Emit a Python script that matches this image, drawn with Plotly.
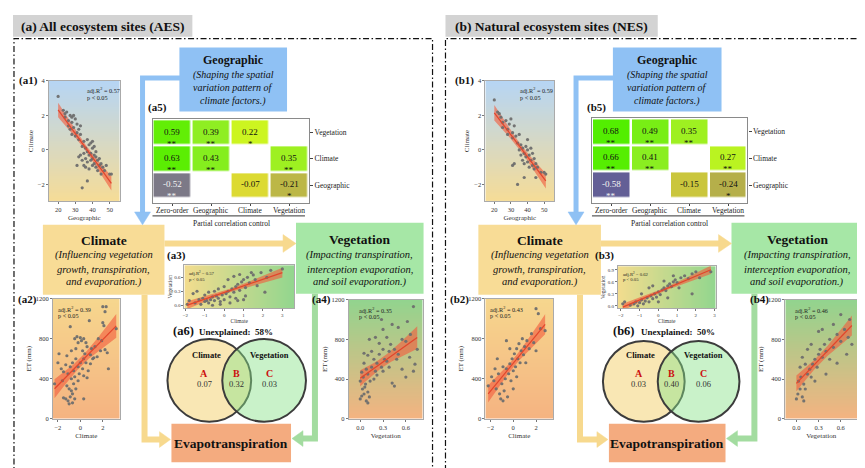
import numpy as np
import plotly.graph_objects as go

W, H = 865, 468
SERIF = "Liberation Serif"

# ---------------- data ----------------
a1_points = [(20, 3.1), (23, 2.3), (24, 2.1), (24, 1.9), (25, 2.2), (26, 1.7), (26, 1.4), (27, 2.0), (27, 1.2),
             (28, 1.9), (28, 1.6), (28, 0.9), (29, 2.0), (29, 1.3), (30, 1.8), (30, 0.8), (31, 1.0), (31, 1.5),
             (32, 0.6), (32, 1.2), (33, 0.9), (33, -0.3), (34, 0.2), (34, -0.6), (34, -2.2), (35, 0.5), (35, -0.2),
             (35, -0.9), (36, 0.1), (36, -0.5), (36, -1.0), (37, -0.1), (37, 0.6), (37, -0.7), (37, -1.8), (38, 0.3),
             (38, -0.3), (38, -1.1), (39, 0.4), (39, -0.2), (39, -0.6), (40, 0.1), (40, -0.5), (40, -0.9), (40, 0.5),
             (41, -0.3), (41, -0.8), (41, 0.2), (42, -0.4), (42, -1.0), (42, -0.1), (43, -0.6), (43, -1.2), (44, -0.5),
             (44, -0.9), (45, -0.8), (45, -1.4), (46, -1.0), (47, -1.2), (48, -0.9), (50, -1.4), (51, -1.4), (33, 1.4),
             (32, -0.4), (31, -0.9)]
a2_points = [(2.0, 1120), (2.3, 1120), (2.2, 1070), (0.8, 980), (-0.9, 920), (3.2, 900), (2.0, 960), (2.1, 930),
             (-0.5, 800), (-0.3, 820), (0.0, 810), (0.3, 800), (0.5, 760), (0.1, 780), (-0.2, 760), (0.6, 720),
             (1.0, 700), (1.3, 720), (1.6, 800), (1.9, 780), (2.2, 690), (2.4, 660), (1.8, 680), (-1.9, 650),
             (-1.2, 630), (-0.8, 680), (-0.4, 700), (0.2, 680), (0.4, 650), (0.9, 640), (1.2, 610), (1.5, 620),
             (2.5, 500), (-2.0, 560), (-1.7, 500), (-1.5, 470), (-1.3, 540), (-1.1, 450), (-0.9, 520), (-0.7, 560),
             (-0.6, 480), (-0.4, 600), (-0.2, 520), (0.0, 560), (0.2, 500), (0.3, 600), (0.5, 560), (0.7, 480),
             (0.9, 550), (1.1, 600), (-0.5, 420), (-0.1, 450), (0.3, 430), (0.6, 410), (-0.8, 400), (-2.3, 350),
             (-1.6, 380), (-1.2, 330), (-1.0, 300), (-0.8, 280), (-0.7, 250), (-0.6, 350), (-0.9, 220), (-1.3, 200),
             (-1.1, 180), (-0.7, 160), (-1.0, 150), (-0.4, 300), (-0.2, 380), (0.3, 200), (-1.5, 210), (-0.5, 200)]
a3_points = [(-1.8, 0.10), (-1.5, 0.05), (-1.3, 0.12), (-1.2, 0.02), (-1.1, 0.15), (-1.0, 0.08), (-0.9, 0.10),
             (-0.8, 0.05), (-0.7, 0.12), (-0.6, 0.18), (-0.5, 0.10), (-0.4, 0.20), (-0.3, 0.15), (-0.2, 0.08),
             (-0.1, 0.22), (0.0, 0.12), (0.1, 0.25), (0.2, 0.30), (0.3, 0.18), (0.4, 0.35), (0.5, 0.28), (0.6, 0.40),
             (0.7, 0.45), (0.8, 0.32), (0.9, 0.50), (1.0, 0.55), (1.1, 0.38), (1.2, 0.60), (1.3, 0.48), (1.5, 0.65),
             (1.7, 0.42), (1.9, 0.70), (2.1, 0.28), (2.2, 0.60), (2.4, 0.75), (3.0, 0.78), (-1.6, 0.25), (-1.4, 0.30),
             (-0.8, 0.28), (-0.3, 0.35), (0.2, 0.55), (0.5, 0.62), (-0.6, 0.00), (-0.2, 0.02), (0.3, 0.05),
             (0.7, 0.10), (1.0, 0.12), (-1.0, 0.22), (0.0, 0.40), (0.8, 0.66), (1.4, 0.70), (-0.5, 0.30), (1.1, 0.20),
             (1.6, 0.55), (-1.9, 0.02), (0.6, 0.15)]
a4_points = [(0.00, 200), (0.02, 230), (0.05, 250), (0.08, 180), (0.10, 160), (0.03, 300), (0.06, 320), (0.10, 270),
             (0.12, 220), (0.00, 380), (0.04, 420), (0.07, 350), (0.02, 470), (0.08, 500), (0.10, 450), (0.13, 380),
             (0.15, 520), (0.18, 600), (0.20, 480), (0.22, 560), (0.25, 650), (0.28, 520), (0.30, 700), (0.32, 600),
             (0.35, 580), (0.38, 680), (0.40, 750), (0.15, 680), (0.10, 640), (0.05, 660), (0.12, 800), (0.20, 820),
             (0.25, 760), (0.30, 900), (0.35, 820), (0.45, 700), (0.50, 650), (0.55, 800), (0.60, 780), (0.65, 620),
             (0.70, 480), (0.72, 550), (0.75, 700), (0.70, 1130), (0.62, 980), (0.42, 950), (0.28, 1000), (0.50, 920),
             (0.45, 330), (0.42, 360), (0.55, 500), (0.60, 420), (0.18, 400), (0.22, 440), (0.05, 560), (0.30, 480),
             (0.38, 520), (0.48, 600), (0.66, 850)]

b1_points = [(20, 2.9), (22, 2.2), (23, 2.1), (24, 1.9), (25, 1.6), (25, 1.3), (27, 1.7), (28, 1.2), (28, 0.9),
             (29, 1.5), (30, 1.8), (31, 1.0), (31, 0.7), (32, 1.4), (33, 0.8), (34, 0.4), (35, 0.0), (35, 0.9),
             (36, -0.3), (36, 0.3), (37, -0.6), (37, 0.1), (38, -0.2), (38, -0.8), (38, -1.6), (39, 0.2), (39, -0.4),
             (40, -0.7), (40, 0.0), (40, 0.6), (41, -0.3), (41, -1.0), (42, 0.1), (42, -0.6), (43, -0.9), (43, -0.2),
             (44, -0.5), (44, -1.1), (45, -0.8), (46, -1.0), (48, -1.3), (50, -1.3), (51, -1.4), (34, -2.0),
             (31, -0.9), (32, -0.8), (45, -1.6)]
b2_points = [(-2.2, 330), (-1.9, 420), (-1.7, 380), (-1.5, 300), (-1.3, 450), (-1.2, 250), (-1.1, 200), (-1.0, 350),
             (-0.9, 180), (-0.8, 280), (-0.7, 400), (-0.6, 500), (-0.5, 220), (-0.4, 450), (-0.3, 550), (-0.2, 380),
             (-0.1, 600), (0.0, 480), (0.1, 650), (0.2, 520), (0.3, 700), (0.4, 600), (0.5, 750), (0.6, 560),
             (0.7, 680), (0.8, 800), (0.9, 640), (1.0, 720), (1.2, 780), (1.4, 700), (1.6, 850), (1.8, 760),
             (2.0, 1100), (2.2, 1050), (2.4, 900), (2.0, 680), (-0.6, 780), (-1.4, 600), (-0.9, 520), (0.0, 300),
             (0.3, 420), (-1.6, 500), (2.8, 880), (1.1, 560), (-0.3, 700)]
b3_points = [(-1.8, 0.10), (-1.5, 0.02), (-1.3, 0.05), (-1.2, 0.10), (-1.1, 0.00), (-1.0, 0.08), (-0.9, 0.15),
             (-0.8, 0.05), (-0.7, 0.12), (-0.6, 0.20), (-0.5, 0.10), (-0.4, 0.25), (-0.3, 0.18), (-0.2, 0.30),
             (-0.1, 0.22), (0.0, 0.35), (0.1, 0.28), (0.2, 0.40), (0.3, 0.45), (0.4, 0.38), (0.5, 0.50), (0.6, 0.55),
             (0.7, 0.48), (0.8, 0.60), (0.9, 0.65), (1.0, 0.58), (1.2, 0.70), (1.4, 0.75), (1.6, 0.68), (1.8, 0.80),
             (2.0, 0.85), (2.2, 0.70), (2.8, 0.85), (1.8, 0.30), (-0.5, 0.45), (0.3, 0.62), (-0.9, 0.30), (0.8, 0.75),
             (-1.9, 0.05), (0.0, 0.10), (0.5, 0.20), (1.1, 0.45), (-0.3, 0.50)]
b4_points = [(0.00, 200), (0.02, 250), (0.05, 300), (0.08, 220), (0.10, 180), (0.03, 380), (0.06, 420), (0.10, 350),
             (0.12, 300), (0.15, 450), (0.18, 500), (0.20, 420), (0.22, 550), (0.25, 600), (0.28, 520), (0.30, 650),
             (0.32, 700), (0.35, 620), (0.38, 750), (0.40, 680), (0.45, 800), (0.50, 720), (0.55, 850), (0.60, 780),
             (0.65, 900), (0.70, 820), (0.72, 1000), (0.60, 1050), (0.50, 950), (0.30, 880), (0.15, 700), (0.08, 620),
             (0.40, 450), (0.55, 560), (0.20, 750), (0.05, 520), (0.25, 380), (0.45, 600), (0.35, 900), (0.12, 550),
             (0.68, 650), (0.75, 750)]

adj_r2 = {"a1": "0.57", "a2": "0.39", "a3": "0.57", "a4": "0.35",
          "b1": "0.59", "b2": "0.43", "b3": "0.62", "b4": "0.46"}

matrix_cols = ["Zero-order", "Geographic", "Climate", "Vegetation"]
matrix_rows = ["Geographic", "Climate", "Vegetation"]          # bottom -> top
a5_values = [[-0.52, None, -0.07, -0.21], [0.63, 0.43, None, 0.35], [0.59, 0.39, 0.22, None]]
a5_stars = [["**", "", "", "*"], ["**", "**", "", "**"], ["**", "**", "*", ""]]
b5_values = [[-0.58, None, -0.15, -0.24], [0.66, 0.41, None, 0.27], [0.68, 0.49, 0.35, None]]
b5_stars = [["**", "", "", "*"], ["**", "**", "", "**"], ["**", "**", "**", ""]]

venn_a = {"A": "0.07", "B": "0.32", "C": "0.03", "unexplained": "58%"}
venn_b = {"A": "0.03", "B": "0.40", "C": "0.06", "unexplained": "50%"}

# ---------------- helpers ----------------
def X(p):
    return p / W


def Y(p):
    return 1 - p / H


fig = go.Figure()
axes = {}
shapes = []
annots = []


def axkeys(i):
    return ("x" if i == 1 else f"x{i}", "y" if i == 1 else f"y{i}",
            "xaxis" if i == 1 else f"xaxis{i}", "yaxis" if i == 1 else f"yaxis{i}")


def text(x, y, s, size, color="#111", bold=False, italic=False, xanchor="center", yanchor="middle"):
    if bold:
        s = f"<b>{s}</b>"
    if italic:
        s = f"<i>{s}</i>"
    annots.append(dict(xref="paper", yref="paper", x=X(x), y=Y(y), text=s, showarrow=False,
                       xanchor=xanchor, yanchor=yanchor,
                       font=dict(family=SERIF, size=size, color=color)))


def rect(x0, y0, x1, y1, fill, line=None, lw=0, dash=None):
    shapes.append(dict(type="rect", xref="paper", yref="paper", x0=X(x0), x1=X(x1), y0=Y(y1), y1=Y(y0),
                       fillcolor=fill, line=dict(color=line or fill, width=lw, dash=dash), layer="below"))


def poly(pts, color, width):
    d = "M " + " L ".join(f"{X(a):.5f},{Y(b):.5f}" for a, b in pts)
    shapes.append(dict(type="path", xref="paper", yref="paper", path=d,
                       line=dict(color=color, width=width), layer="above"))


def head(pts, color):
    d = "M " + " L ".join(f"{X(a):.5f},{Y(b):.5f}" for a, b in pts) + " Z"
    shapes.append(dict(type="path", xref="paper", yref="paper", path=d, fillcolor=color,
                       line=dict(color=color, width=0.5), layer="above"))


def circle(cx, cy, r, fill):
    shapes.append(dict(type="circle", xref="paper", yref="paper", x0=X(cx - r), x1=X(cx + r),
                       y0=Y(cy + r), y1=Y(cy - r), fillcolor=fill,
                       line=dict(color="#3c3c3c", width=2), layer="above"))


def scatter_panel(i, pts, dom, xr, yr, xt, yt, xtitle, ytitle, grad, r2, r2xy, fs=6.5, yfmt=None, xfmt=None,
                  standoff=3):
    xa, ya, xk, yk = axkeys(i)
    xs = np.array([p[0] for p in pts], float)
    ys = np.array([p[1] for p in pts], float)
    n = 30
    if grad[0] == "v":
        gx = [xr[0], xr[1]]
        gy = list(np.linspace(yr[0], yr[1], n))
        z = [[t, t] for t in np.linspace(0, 1, n)]
    else:
        gx = list(np.linspace(xr[0], xr[1], n))
        gy = [yr[0], yr[1]]
        z = [list(np.linspace(0, 1, n))] * 2
    fig.add_trace(go.Heatmap(x=gx, y=gy, z=z, colorscale=[[0, grad[1]], [1, grad[2]]], zsmooth="best",
                             showscale=False, hoverinfo="skip", xaxis=xa, yaxis=ya))
    k, b = np.polyfit(xs, ys, 1)
    m = len(xs)
    xl = np.linspace(xs.min(), xs.max(), 60)
    yl = k * xl + b
    s = np.sqrt(((ys - (k * xs + b)) ** 2).sum() / (m - 2))
    se = s * np.sqrt(1 / m + (xl - xs.mean()) ** 2 / ((xs - xs.mean()) ** 2).sum())
    band_x = list(xl) + list(xl[::-1])
    band_y = list(yl + 1.96 * se) + list((yl - 1.96 * se)[::-1])
    fig.add_trace(go.Scatter(x=band_x, y=band_y, fill="toself", fillcolor="rgba(242,92,62,0.62)",
                             line=dict(width=0), mode="lines", hoverinfo="skip", xaxis=xa, yaxis=ya))
    fig.add_trace(go.Scatter(x=xs, y=ys, mode="markers",
                             marker=dict(size=3.2, color="#6e6e6e", opacity=0.95, line=dict(width=0)),
                             xaxis=xa, yaxis=ya))
    fig.add_trace(go.Scatter(x=xl, y=yl, mode="lines", line=dict(color="#e2452c", width=1.2),
                             hoverinfo="skip", xaxis=xa, yaxis=ya))
    common = dict(ticks="outside", ticklen=2, tickwidth=0.7, tickcolor="#777", showline=True,
                  linecolor="#aaaaaa", linewidth=0.8, mirror=True, showgrid=False, zeroline=False,
                  tickfont=dict(family=SERIF, size=fs, color="#333"))
    axes[xk] = dict(domain=[X(dom[0]), X(dom[1])], range=xr, anchor=ya, tickvals=xt,
                    title=dict(text=xtitle, font=dict(family=SERIF, size=fs + 0.5, color="#333"),
                               standoff=standoff), **common)
    axes[yk] = dict(domain=[Y(dom[3]), Y(dom[2])], range=yr, anchor=xa, tickvals=yt,
                    title=dict(text=ytitle, font=dict(family=SERIF, size=fs + 0.5, color="#333"),
                               standoff=standoff), **common)
    if xfmt:
        axes[xk]["tickformat"] = xfmt
    if yfmt:
        axes[yk]["tickformat"] = yfmt
    text(r2xy[0], r2xy[1], f"adj.R<sup>2</sup> = {r2}", fs - 0.3, color="#222", xanchor="left", yanchor="top")
    text(r2xy[0], r2xy[1] + fs + 1.5, "p < 0.05", fs - 0.3, color="#222", xanchor="left", yanchor="top")


MATRIX_SCALE = [[0.0, "#57529c"], [0.0385, "#76738e"], [0.277, "#b5af4a"], [0.4615, "#ecec28"],
                [0.631, "#ccf520"], [0.769, "#8cee22"], [0.923, "#60ee05"], [1.0, "#50ee00"]]


def matrix_panel(i, vals, stars, dom, under_x, title_x):
    xa, ya, xk, yk = axkeys(i)
    fig.add_trace(go.Heatmap(x=matrix_cols, y=matrix_rows, z=vals, colorscale=MATRIX_SCALE, zmin=-0.6,
                             zmax=0.7, xgap=2.5, ygap=2.5, showscale=False, hoverinfo="skip",
                             xaxis=xa, yaxis=ya))
    common = dict(ticks="outside", ticklen=3, tickwidth=0.7, tickcolor="#444", showline=True,
                  linecolor="#8a8a8a", linewidth=1.2, mirror=True, showgrid=False, zeroline=False,
                  tickfont=dict(family=SERIF, size=7.5, color="#222"), fixedrange=True)
    axes[xk] = dict(domain=[X(dom[0]), X(dom[1])], anchor=ya, type="category", showticklabels=False,
                    **dict(common, ticklen=2))
    axes[yk] = dict(domain=[Y(dom[3]), Y(dom[2])], anchor=xa, type="category", side="right", **common)
    cw = (dom[1] - dom[0]) / len(matrix_cols)
    for c, name in enumerate(matrix_cols):
        text(dom[0] + cw * (c + 0.5), 201.5, name, 7.5, color="#222")
    for r, row in enumerate(vals):
        for c, v in enumerate(row):
            if v is None:
                continue
            col = "#f4f4f4" if v < -0.4 else "#111"
            annots.append(dict(xref=xa, yref=ya, x=matrix_cols[c], y=matrix_rows[r], text=f"{v:.2f}",
                               showarrow=False, yshift=1, font=dict(family=SERIF, size=9, color=col)))
            if stars[r][c]:
                annots.append(dict(xref=xa, yref=ya, x=matrix_cols[c], y=matrix_rows[r], text=stars[r][c],
                                   showarrow=False, yshift=-11, font=dict(family=SERIF, size=9, color=col)))
    shapes.append(dict(type="line", xref="paper", yref="paper", x0=X(under_x[0]), x1=X(under_x[1]),
                       y0=Y(207), y1=Y(207), line=dict(color="#333", width=1)))
    text(title_x, 215, "Partial correlation control", 7.5, color="#222")


def venn(cx1, cx2, cy, r, vals, head_x):
    circle(cx1, cy, r, "#f9e7b4")
    circle(cx2, cy, r, "rgba(135,226,135,0.45)")
    text(head_x[0], 324, "(" + head_x[2] + ")", 12.5, bold=True, xanchor="left")
    text(head_x[1], 324.5, "Unexplained:\u00a0\u00a0" + vals["unexplained"], 9, bold=True, xanchor="left")
    text(cx1 - 3, 348, "Climate", 8.5, bold=True)
    text(cx2 + 5, 348, "Vegetation", 8.5, bold=True)
    mid = (cx1 + cx2) / 2
    for lab, xx in (("A", cx1 - 5), ("B", mid), ("C", cx2 + 5)):
        text(xx, 367, lab, 10, color="#cc1010", bold=True)
        text(xx, 378, vals[lab], 8.5, color="#333")


BLUE, GOLD, GREEN, ORANGE = "#8fc1f4", "#f8dc96", "#a6e7a6", "#f4ab7f"
ARROW_GOLD, ARROW_GREEN = "#f7d98e", "#a3dca0"


def big_layout(off, hdr, geo, clim, veg, et, blue_x, gold_x, green_x):
    # header
    rect(hdr[0], 3, hdr[1], 25, "#d3d3d3")
    text((hdr[0] + hdr[1]) / 2, 14.5, hdr[2], 13.5, bold=True)
    # dash-dot frame
    shapes.append(dict(type="rect", xref="paper", yref="paper", x0=X(off[0]), x1=X(off[1]), y0=Y(464),
                       y1=Y(27), line=dict(color="#111", width=1.2, dash="6px,2.5px,1.5px,2.5px"),
                       fillcolor="rgba(0,0,0,0)", layer="above"))
    # geographic box
    rect(geo[0], 36, geo[1], 101, BLUE)
    gc = (geo[0] + geo[1]) / 2
    text(gc, 49, "Geographic", 12, bold=True)
    for yy, s in ((64, "(Shaping the spatial"), (77, "variation pattern of"), (90, "climate factors.)")):
        text(gc, yy, s, 10, italic=True)
    # climate box
    rect(clim[0], 216, clim[1], 287, GOLD)
    cc = (clim[0] + clim[1]) / 2
    text(cc, 232, "Climate", 13.5, bold=True)
    for yy, s in ((247, "(Influencing vegetation"), (261, "growth, transpiration,"), (274, "and evaporation.)")):
        text(cc, yy, s, 10.5, italic=True)
    # vegetation box
    rect(veg[0], 214, veg[1], 286, GREEN)
    vc = (veg[0] + veg[1]) / 2
    text(vc, 231, "Vegetation", 13.5, bold=True)
    for yy, s in ((247, "(Impacting transpiration,"), (261, "interception evaporation,"), (274, "and soil evaporation.)")):
        text(vc, yy, s, 10.5, italic=True)
    # ET box
    rect(et[0], 418, et[1], 457, ORANGE)
    text((et[0] + et[1]) / 2, 438, "Evapotranspiration", 13.5, bold=True)
    # blue arrow geographic -> climate
    poly([(geo[0] + 2, 67), (blue_x, 67), (blue_x, 204)], BLUE, 5)
    head([(blue_x - 8, 203), (blue_x + 8, 203), (blue_x, 216)], BLUE)
    # gold arrow climate -> vegetation
    poly([(clim[1], 235), (veg[0] - 12, 235)], ARROW_GOLD, 6)
    head([(veg[0] - 13, 226), (veg[0] - 13, 244), (veg[0], 235)], ARROW_GOLD)
    # gold arrow climate -> ET
    poly([(gold_x, 287), (gold_x, 434), (et[0] - 11, 434)], ARROW_GOLD, 6)
    head([(et[0] - 12, 426), (et[0] - 12, 442), (et[0] - 1, 434)], ARROW_GOLD)
    # green arrow vegetation -> ET
    poly([(green_x, 286), (green_x, 433), (et[1] + 11, 433)], ARROW_GREEN, 6)
    head([(et[1] + 12, 425), (et[1] + 12, 441), (et[1] + 1, 433)], ARROW_GREEN)


# ---------------- panel (a) ----------------
big_layout((4, 424), (3, 183, "(a) All ecosystem sites (AES)"), (170, 278), (33, 155), (287, 415),
           (162, 282), 133, 135, 306)
scatter_panel(1, a1_points, (39, 110, 70, 192), [14.6, 55.8], [-2.97, 4], [20, 30, 40, 50], [-2, 0, 2, 4],
              "Geographic", "Climate", ("v", "#f6dc96", "#b6d5f4"), adj_r2["a1"], (75, 73))
scatter_panel(2, a2_points, (43, 110, 291, 413), [-2.45, 3.5], [0, 1200], [-2, 0, 2], [0, 400, 800, 1200],
              "Climate", "ET (mm)", ("v", "#f5b381", "#f6d78e"), adj_r2["a2"], (46, 295))
scatter_panel(3, a3_points, (175, 285, 257, 301), [-2.05, 3.6], [-0.07, 0.86], [-2, -1, 0, 1, 2, 3],
              [0, 0.3, 0.6], "Climate", "Vegetation", ("h", "#f3dc8e", "#92d68e"), adj_r2["a3"], (178, 260),
              fs=5, yfmt=".1f", standoff=1)
scatter_panel(4, a4_points, (340, 414, 292, 413), [-0.15, 0.82], [0, 1200], [0, 0.3, 0.6],
              [0, 400, 800, 1200], "Vegetation", "ET (mm)", ("v", "#f5b381", "#92d48e"), adj_r2["a4"],
              (348, 296), xfmt=".1f")
matrix_panel(9, a5_values, a5_stars, (143, 300, 109, 194), (143, 296), 222)
venn(200, 255, 374, 42, venn_a, (162, 188, "a6"))
for lab, x, y in (("(a1)", 19, 70), ("(a5)", 148, 97), ("(a3)", 167, 247), ("(a2)", 18, 292), ("(a4)", 313, 292)):
    text(x, y, lab, 11, bold=True)

# ---------------- panel (b) ----------------
big_layout((437, 860), (437, 650, "(b) Natural ecosystem sites (NES)"), (605, 714), (470, 593),
           (724, 856), (601, 718), 568, 572, 747)
scatter_panel(5, b1_points, (477, 546, 70, 192), [14.6, 56], [-2.97, 4], [20, 30, 40, 50], [-2, 0, 2, 4],
              "Geographic", "Climate", ("v", "#f6dc96", "#b6d5f4"), adj_r2["b1"], (510, 73))
scatter_panel(6, b2_points, (477, 545, 291, 413), [-2.45, 3.5], [0, 1200], [-2, 0, 2], [0, 400, 800, 1200],
              "Climate", "ET (mm)", ("v", "#f5b381", "#f6d78e"), adj_r2["b2"], (480, 295))
scatter_panel(7, b3_points, (610, 708, 258, 301), [-2.16, 3.05], [-0.066, 0.99], [-2, -1, 0, 1, 2, 3],
              [0, 0.3, 0.6, 0.9], "Climate", "Vegetation", ("h", "#f3dc8e", "#92d68e"), adj_r2["b3"],
              (613, 261), fs=5, yfmt=".1f", standoff=1)
scatter_panel(8, b4_points, (778, 850, 292, 413), [-0.15, 0.82], [0, 1200], [0, 0.3, 0.6],
              [0, 400, 800, 1200], "Vegetation", "ET (mm)", ("v", "#f5b381", "#92d48e"), adj_r2["b4"],
              (786, 296), xfmt=".1f")
matrix_panel(10, b5_values, b5_stars, (584, 740, 108, 194), (584, 737), 662)
venn(636, 691, 375, 41, venn_b, (603, 631, "b6"))
for lab, x, y in (("(b1)", 456, 70), ("(b5)", 589, 97), ("(b3)", 597, 247), ("(b2)", 451, 292), ("(b4)", 752, 292)):
    text(x, y, lab, 11, bold=True)

fig.update_layout(width=W, height=H, autosize=False, margin=dict(l=0, r=0, t=0, b=0),
                  paper_bgcolor="white", plot_bgcolor="white", showlegend=False,
                  font=dict(family=SERIF), shapes=shapes, annotations=annots, **axes)
fig.write_html("out.html")
